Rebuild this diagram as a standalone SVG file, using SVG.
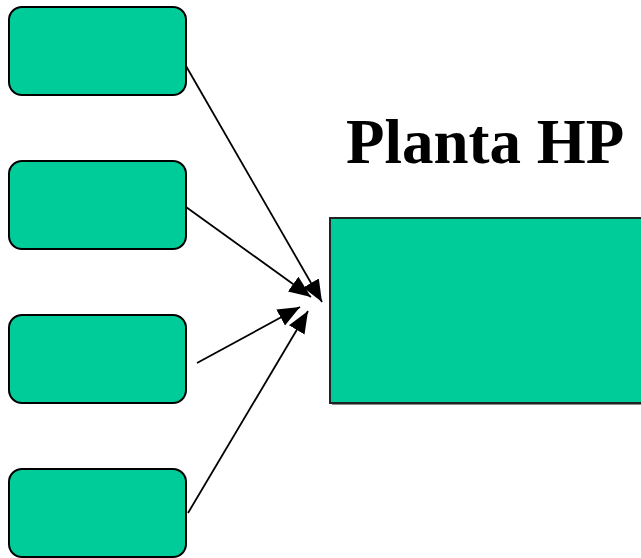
<svg xmlns="http://www.w3.org/2000/svg" width="641" height="558" viewBox="0 0 641 558">
<defs>
<style>
.box{fill:#00CC99;stroke:#000;stroke-width:2}
.big{fill:#00CC99;stroke:#222;stroke-width:2}
.conn{stroke:#000;stroke-width:1.8;fill:none;marker-end:url(#ah)}
.title{font-family:"Liberation Serif",serif;font-weight:bold;font-size:63px;fill:#000}
</style>
<marker id="ah" markerUnits="userSpaceOnUse" markerWidth="24" markerHeight="20" refX="22" refY="9" orient="auto" viewBox="0 0 24 18">
<path d="M0,0 L22,9 L0,18 Z" fill="#000"/>
</marker>
</defs>
<rect width="641" height="558" fill="#fff"/>
<g id="box1"><rect class="box" x="9" y="7" width="177" height="88" rx="13"/></g>
<g id="box2"><rect class="box" x="9" y="161" width="177" height="88" rx="13"/></g>
<g id="box3"><rect class="box" x="9" y="315" width="177" height="88" rx="13"/></g>
<g id="box4"><rect class="box" x="9" y="469" width="177" height="88" rx="13"/></g>
<g id="planta">
<rect x="332" y="220" width="320" height="185" fill="#888"/>
<rect class="big" x="330" y="218" width="320" height="185"/>
</g>
<g id="title"><text class="title" x="346" y="163">Planta HP</text></g>
<g id="connectors">
<line class="conn" x1="186" y1="66" x2="322" y2="302"/>
<line class="conn" x1="186" y1="207" x2="311" y2="297"/>
<line class="conn" x1="197" y1="363" x2="300" y2="307"/>
<line class="conn" x1="188" y1="513" x2="308" y2="311"/>
</g>
</svg>
